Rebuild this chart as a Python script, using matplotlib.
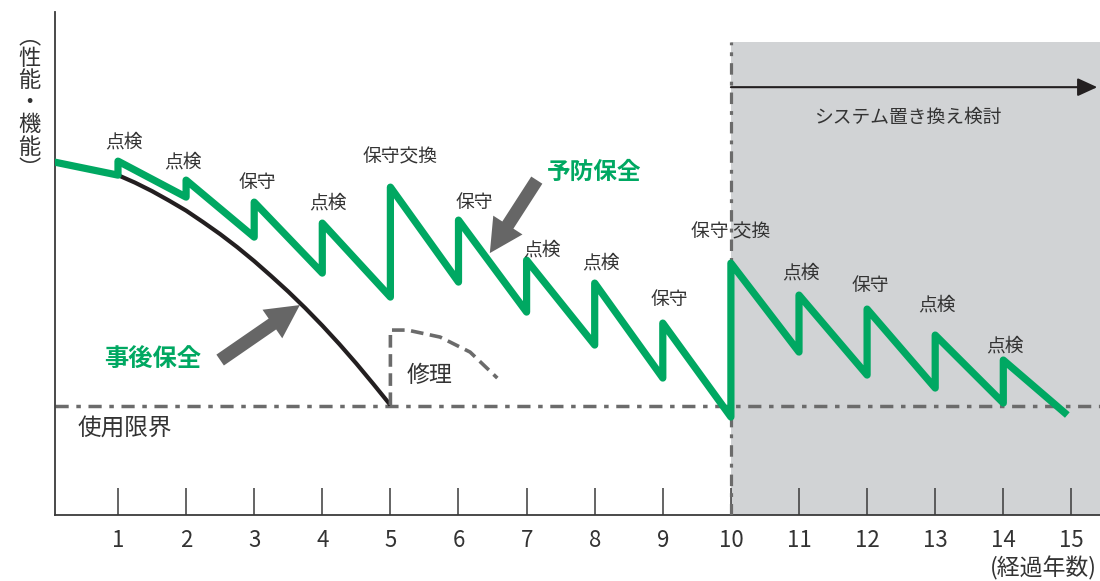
import matplotlib
matplotlib.use('Agg')
import matplotlib.pyplot as plt

plt.rcParams['font.family'] = ['Noto Sans CJK JP', 'DejaVu Sans']

# maintenance events (year, action, performance before / after)
years = [1, 2, 3, 4, 5, 6, 7, 8, 9, 10, 11, 12, 13, 14]
actions = ['点検', '点検', '保守', '点検', '保守交換', '保守', '点検', '点検', '保守',
           '保守 交換', '点検', '保守', '点検', '点検']
perf_before = [68, 63.6, 55.6, 48.4, 43.6, 46.6, 40.6, 34, 27.4, 19.6, 32.6, 28, 25.4, 22.4]
perf_after = [70.8, 67, 62.6, 58.4, 65.6, 59, 51, 46.4, 38.4, 50.4, 44, 41.2, 36, 31]
start_year, start_perf = 0, 70.8
end_year, end_perf = 14.94, 20

# breakdown maintenance curve
bd_years = [1, 1.25, 1.5, 1.75, 2, 2.25, 2.5, 2.75, 3, 3.25, 3.5, 3.75, 4, 4.25, 4.5, 4.75, 5]
bd_perf = [68, 66.5, 64.8, 62.9, 60.9, 58.6, 56.2, 53.6, 50.8, 47.8, 44.7, 41.4, 37.9,
           34.2, 30.3, 26.2, 22]

# repair (dashed)
rep_years = [5, 5, 5.25, 5.73, 6.17, 6.57]
rep_perf = [22, 37, 37, 35.6, 32.6, 27.4]

limit_perf = 21.8
replace_year = 10
tick_years = list(range(1, 16))

# label offsets from peak (year, perf)
lab_dx = [0.09, -0.05, 0.04, 0.08, 0.14, 0.23, 0.23, 0.09, 0.09, 0, 0.03, 0.04, 0.02, 0.02]
lab_dy = [3.8, 3.6, 4, 4, 6, 3.6, 2, 4, 4.8, 6.2, 4.4, 4.8, 6, 2.8]

green = '#00a862'
grey = '#6b6b6b'
text_c = '#333333'

fig = plt.figure(figsize=(11, 5.81), dpi=100)
ax = fig.add_axes([0.05, 0.1136, 0.95, 0.8654])
xmin, xmax = 0.075, 15.42
ax.set_xlim(xmin, xmax)
ax.set_ylim(0, 100.6)

# replacement-consideration zone
ax.fill_between([replace_year, xmax], 0, 94.6, color='#d1d3d5', lw=0, zorder=0)
ax.plot([replace_year, replace_year], [0, 94.6], color=grey, lw=2.3,
        linestyle=(0, (3.6, 2.2, 1.2, 2.2)), zorder=3)
ax.annotate('', xy=(15.38, 85.6), xytext=(replace_year, 85.6),
            arrowprops=dict(arrowstyle='-|>,head_length=1.2,head_width=0.55',
                            mutation_scale=10, color='#231f20', lw=1.5,
                            shrinkA=0, shrinkB=0))
ax.text(12.59, 79.6, 'システム置き換え検討', fontsize=13.5, color=text_c,
        ha='center', va='center')

# usage limit
ax.axhline(limit_perf, color=grey, lw=2.5, linestyle=(0, (3.8, 2.2, 1.3, 2.2)), zorder=2)
ax.text(0.41, 17.4, '使用限界', fontsize=17, color=text_c, ha='left', va='center')

# breakdown maintenance
ax.plot(bd_years, bd_perf, color='#231f20', lw=3, solid_capstyle='butt', zorder=4)
ax.plot(rep_years, rep_perf, color=grey, lw=2.6, linestyle=(0, (3.5, 1.8)), zorder=4)
ax.text(5.24, 28, '修理', fontsize=16.5, color=text_c, ha='left', va='center')

# preventive maintenance
gx, gy = [start_year], [start_perf]
for yr, b, a in zip(years, perf_before, perf_after):
    gx += [yr, yr]
    gy += [b, a]
gx.append(end_year)
gy.append(end_perf)
ax.plot(gx, gy, color=green, lw=5.2, solid_joinstyle='round', solid_capstyle='butt', zorder=5)

for yr, a, name, dx, dy in zip(years, perf_after, actions, lab_dx, lab_dy):
    ax.text(yr + dx, a + dy, name, fontsize=13.5, color=text_c, ha='center', va='center', zorder=6)

# callouts
arrow = dict(arrowstyle='simple,head_length=2.4,head_width=2.5,tail_width=0.95',
             mutation_scale=10, color='#666666', lw=0, shrinkA=0, shrinkB=0)
ax.annotate('', xy=(3.67, 42), xytext=(2.5, 31), arrowprops=arrow)
ax.annotate('', xy=(6.46, 52.4), xytext=(7.15, 67), arrowprops=arrow)
ax.text(1.51, 31, '事後保全', fontsize=17.5, fontweight='bold', color=green,
        ha='center', va='center')
ax.text(7.99, 68.6, '予防保全', fontsize=17, fontweight='bold', color=green,
        ha='center', va='center')

# axes
for s in ['top', 'right']:
    ax.spines[s].set_visible(False)
for s in ['left', 'bottom']:
    ax.spines[s].set_color('#3a3a3a')
    ax.spines[s].set_linewidth(1.3)
ax.set_yticks([])
ax.set_xticks(tick_years)
ax.set_xticklabels([str(t) for t in tick_years])
ax.tick_params(axis='x', direction='in', length=19.5, width=1.1, color='#3a3a3a',
               labelsize=16, labelcolor=text_c, pad=10)

fig.text(0.997, 0.022, '(経過年数)', fontsize=16.5, color=text_c, ha='right', va='center')
fig.text(0.027, 0.823, '︵\n性\n能\n・\n機\n能\n︶', fontsize=16, color=text_c,
         ha='center', va='center', linespacing=0.95)

fig.savefig('out.png', dpi=100)
